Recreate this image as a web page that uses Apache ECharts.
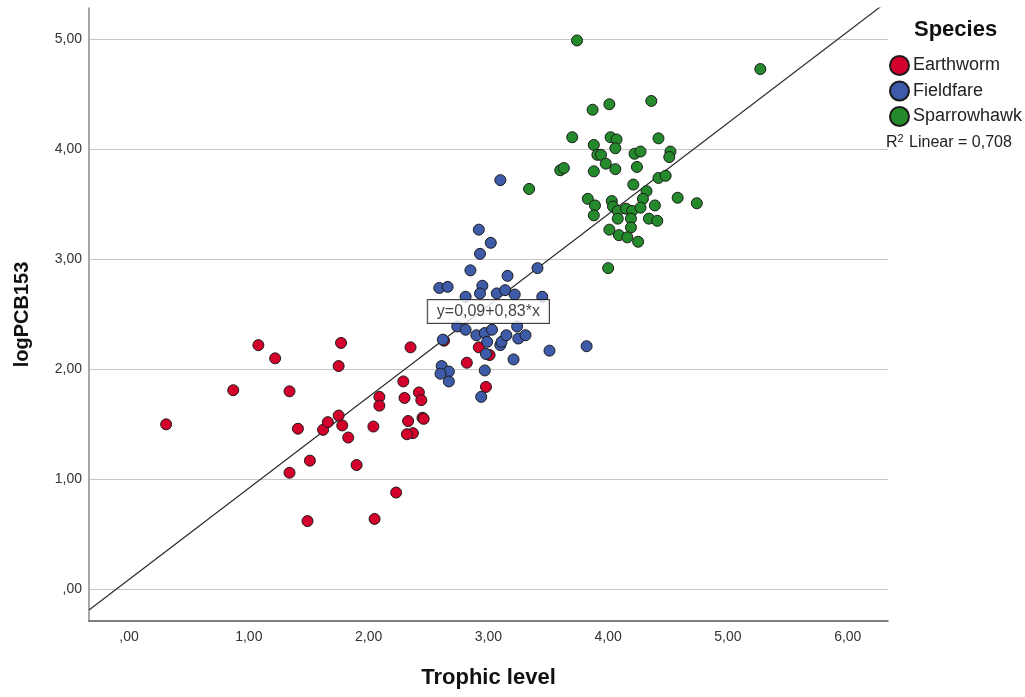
<!DOCTYPE html>
<html>
<head>
<meta charset="utf-8">
<title>logPCB153 vs Trophic level</title>
<script src="https://cdn.jsdelivr.net/npm/echarts@6/dist/echarts.min.js"></script>
<style>
  html, body { margin: 0; padding: 0; background: #ffffff; }
  #chart { width: 1025px; height: 697px; }
</style>
</head>
<body>
<div id="chart"></div>
<script>
// Species groups and their [trophic level, logPCB153] observations
const speciesNames = ['Earthworm', 'Fieldfare', 'Sparrowhawk'];
const speciesColors = ['#d3002b', '#3d5ba8', '#248a2b'];

const earthworm = [
  [0.31, 1.50], [0.87, 1.81], [1.08, 2.22], [1.22, 2.10], [1.34, 1.80],
  [1.41, 1.46], [1.34, 1.06], [1.51, 1.17], [1.49, 0.62], [1.62, 1.45],
  [1.66, 1.52], [1.75, 1.58], [1.78, 1.49], [1.83, 1.38], [1.90, 1.13],
  [1.75, 2.03], [1.77, 2.24], [2.04, 1.48], [2.09, 1.75], [2.09, 1.67],
  [2.05, 0.64], [2.23, 0.88], [2.35, 2.20], [2.29, 1.89], [2.30, 1.74],
  [2.42, 1.79], [2.44, 1.72], [2.33, 1.53], [2.45, 1.56], [2.46, 1.55],
  [2.37, 1.42], [2.32, 1.41], [2.82, 2.06], [2.92, 2.20], [3.01, 2.13],
  [2.98, 1.84], [2.63, 2.26]
];

const fieldfare = [
  [3.10, 3.72], [2.92, 3.27], [3.02, 3.15], [2.93, 3.05], [2.85, 2.90],
  [3.16, 2.85], [3.41, 2.92], [2.59, 2.74], [2.66, 2.75], [2.95, 2.76],
  [2.81, 2.66], [2.93, 2.69], [3.07, 2.69], [3.14, 2.72], [3.22, 2.68],
  [3.45, 2.66], [2.62, 2.27], [2.74, 2.39], [2.81, 2.36], [2.90, 2.31],
  [2.97, 2.33], [3.03, 2.36], [2.99, 2.25], [2.98, 2.14], [3.10, 2.22],
  [3.11, 2.25], [3.15, 2.31], [3.24, 2.39], [3.25, 2.28], [3.31, 2.31],
  [3.51, 2.17], [3.21, 2.09], [2.61, 2.03], [2.67, 1.98], [2.60, 1.96],
  [2.67, 1.89], [2.97, 1.99], [2.94, 1.75], [3.82, 2.21]
];

const sparrowhawk = [
  [3.74, 4.99], [4.36, 4.44], [4.01, 4.41], [3.87, 4.36], [3.70, 4.11],
  [4.02, 4.11], [4.07, 4.09], [4.42, 4.10], [3.88, 4.04], [4.06, 4.01],
  [3.91, 3.95], [3.94, 3.95], [4.22, 3.96], [4.27, 3.98], [4.52, 3.98],
  [4.51, 3.93], [3.98, 3.87], [3.88, 3.80], [4.06, 3.82], [4.24, 3.84],
  [3.60, 3.81], [3.63, 3.83], [3.34, 3.64], [4.21, 3.68], [4.42, 3.74],
  [4.48, 3.76], [4.32, 3.62], [4.29, 3.55], [4.58, 3.56], [4.74, 3.51],
  [3.83, 3.55], [3.89, 3.49], [3.88, 3.40], [4.03, 3.53], [4.04, 3.48],
  [4.08, 3.44], [4.15, 3.46], [4.20, 3.44], [4.27, 3.47], [4.39, 3.49],
  [4.08, 3.37], [4.19, 3.37], [4.34, 3.37], [4.41, 3.35], [4.19, 3.29],
  [4.01, 3.27], [4.09, 3.22], [4.16, 3.20], [4.25, 3.16], [4.00, 2.92],
  [5.27, 4.73]
];

// Linear fit over all observations
const fitIntercept = 0.09;
const fitSlope = 0.83;
const fitR2 = '0,708';

// Axis ranges and labelled ticks
const xRange = [-0.334, 6.336];
const yRange = [-0.288, 5.285];
const xTicks = [0, 1, 2, 3, 4, 5, 6];
const yTicks = [0, 1, 2, 3, 4, 5];

const FONT = '"Liberation Sans", Arial, sans-serif';

// Decimal comma, leading zero dropped: 0 -> ",00", 1 -> "1,00"
function commaLabel(v) {
  const s = Math.abs(v).toFixed(2).replace('.', ',');
  return s.startsWith('0,') ? s.slice(1) : s;
}
function tickFormatter(ticks) {
  return function (v) {
    return ticks.some(t => Math.abs(t - v) < 1e-9) ? commaLabel(v) : '';
  };
}

const fitLine = [
  [xRange[0], fitIntercept + fitSlope * xRange[0]],
  [xRange[1], fitIntercept + fitSlope * xRange[1]]
];
const eqAnchorX = 3.0;
const eqText = 'y=' + commaLabel(fitIntercept).replace(/^,/, '0,') + '+' +
  commaLabel(fitSlope).replace(/^,/, '0,') + '*x';

const groups = [earthworm, fieldfare, sparrowhawk];
const scatterSeries = speciesNames.map((name, i) => ({
  name: name,
  type: 'scatter',
  data: groups[i],
  symbol: 'circle',
  symbolSize: 11,
  itemStyle: {
    color: speciesColors[i],
    borderColor: '#1b1b1b',
    borderWidth: 1,
    opacity: 1
  },
  emphasis: { disabled: true },
  z: 3
}));

const chart = echarts.init(document.getElementById('chart'), null, { renderer: 'canvas' });

chart.setOption({
  animation: false,
  backgroundColor: '#ffffff',
  textStyle: { fontFamily: FONT },
  grid: { left: 89, right: 137, top: 8, bottom: 76, containLabel: false },
  xAxis: {
    type: 'value',
    min: xRange[0],
    max: xRange[1],
    name: 'Trophic level',
    nameLocation: 'middle',
    nameGap: 46,
    nameTextStyle: { fontSize: 22, fontWeight: 'bold', color: '#111', fontFamily: FONT },
    axisLine: { show: true, onZero: false, lineStyle: { color: '#555', width: 1.5 } },
    axisTick: { show: false },
    axisLabel: { formatter: tickFormatter(xTicks), fontSize: 14, color: '#333', margin: 9, fontFamily: FONT },
    splitLine: { show: false }
  },
  yAxis: {
    type: 'value',
    min: yRange[0],
    max: yRange[1],
    name: 'logPCB153',
    nameLocation: 'middle',
    nameRotate: 90,
    nameGap: 57,
    nameTextStyle: { fontSize: 20, fontWeight: 'bold', color: '#111', fontFamily: FONT },
    axisLine: { show: true, onZero: false, lineStyle: { color: '#8a8a8a', width: 1.5 } },
    axisTick: { show: false },
    axisLabel: { formatter: tickFormatter(yTicks), fontSize: 14, color: '#333', margin: 7, fontFamily: FONT },
    splitLine: { show: true, showMinLine: false, showMaxLine: false, lineStyle: { color: '#c6c6c6', width: 1.2 } }
  },
  legend: {
    data: speciesNames,
    orient: 'vertical',
    left: 889,
    top: 55,
    padding: 0,
    itemWidth: 19,
    itemHeight: 19,
    itemGap: 4.5,
    icon: 'circle',
    selectedMode: false,
    textStyle: { fontSize: 18, color: '#222', fontFamily: FONT, padding: [0, 0, 0, -1] }
  },
  graphic: [
    {
      type: 'text',
      left: 914,
      top: 19,
      style: { text: 'Species', font: 'bold 22px ' + FONT, fill: '#111' }
    },
    {
      type: 'text',
      left: 886,
      top: 133,
      style: {
        text: 'R{sup|2} Linear = ' + fitR2,
        font: '16px ' + FONT,
        fill: '#222',
        rich: {
          sup: { fontSize: 11, verticalAlign: 'top', padding: [0, 1, 8, 0], fontFamily: FONT, fill: '#222' }
        }
      }
    }
  ],
  series: scatterSeries.concat([
    {
      name: 'fit',
      type: 'line',
      data: fitLine,
      symbol: 'none',
      clip: true,
      silent: true,
      lineStyle: { color: '#2b2b2b', width: 1.2 },
      z: 2
    },
    {
      name: 'fit label',
      type: 'scatter',
      data: [[eqAnchorX, fitIntercept + fitSlope * eqAnchorX]],
      symbolSize: 0,
      silent: true,
      z: 10,
      label: {
        show: true,
        position: 'inside',
        offset: [0, 6],
        formatter: eqText,
        fontSize: 16,
        color: '#111',
        fontFamily: FONT,
        backgroundColor: '#ffffff',
        borderColor: '#111',
        borderWidth: 1,
        padding: [4, 9, 3, 9]
      }
    }
  ])
});
</script>
</body>
</html>
